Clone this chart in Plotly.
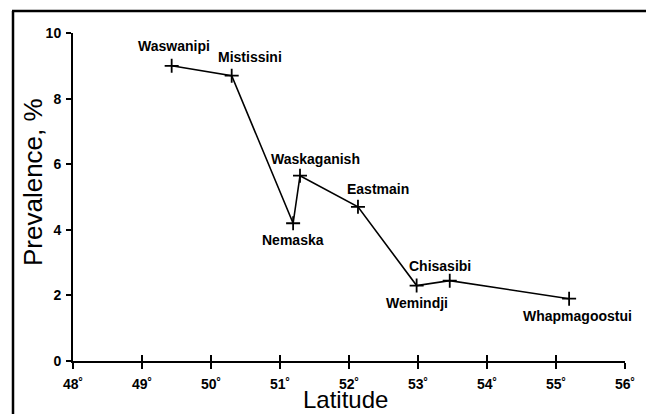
import plotly.graph_objects as go

# ---- data ----
communities = ["Waswanipi", "Mistissini", "Nemaska", "Waskaganish",
               "Eastmain", "Wemindji", "Chisasibi", "Whapmagoostui"]
latitude = [49.43, 50.30, 51.19, 51.29, 52.13, 52.98, 53.46, 55.19]
prevalence = [9.0, 8.7, 4.2, 5.65, 4.7, 2.3, 2.45, 1.9]
x_ticks = [48, 49, 50, 51, 52, 53, 54, 55, 56]
x_tick_labels = ["48˚", "49˚", "50˚", "51˚", "52˚", "53˚", "54˚", "55˚", "56˚"]
y_ticks = [0, 2, 4, 6, 8, 10]

# label offsets in pixels (style only)
label_shift = {
    "Waswanipi": (2, 20), "Mistissini": (18, 19), "Nemaska": (0, -17),
    "Waskaganish": (15, 17), "Eastmain": (20, 18), "Wemindji": (0, -17),
    "Chisasibi": (-10, 15), "Whapmagoostui": (8, -17),
}

W, H = 646, 414
L, R, T, B = 73, 21, 33, 53
pw, ph = W - L - R, H - T - B

FONT = "Liberation Sans, Arial, Helvetica, sans-serif"


def px_to_paper_x(px):
    return (px - L) / pw


def py_to_paper_y(py):
    return (T + ph - py) / ph


fig = go.Figure()
fig.add_trace(go.Scatter(
    x=latitude, y=prevalence, mode="lines+markers",
    line=dict(color="black", width=1.6),
    marker=dict(symbol="cross-thin", size=10, line=dict(color="black", width=1.8)),
    showlegend=False, hoverinfo="skip",
))

annotations = []
for name, lx, ly in zip(communities, latitude, prevalence):
    dx, dy = label_shift[name]
    annotations.append(dict(
        x=lx, y=ly, xref="x", yref="y", text=name, showarrow=False,
        xshift=dx, yshift=dy,
        font=dict(family=FONT, size=14, color="black", weight="bold"),
    ))

# axis titles
annotations.append(dict(
    x=px_to_paper_x(345), y=py_to_paper_y(414), xref="paper", yref="paper",
    text="Latitude", showarrow=False, xanchor="center", yanchor="bottom",
    borderpad=0,
    font=dict(family=FONT, size=24, color="black"),
))
annotations.append(dict(
    x=px_to_paper_x(33), y=py_to_paper_y(182), xref="paper", yref="paper",
    text="Prevalence, %", showarrow=False, textangle=-90,
    xanchor="center", yanchor="middle",
    font=dict(family=FONT, size=26, color="black"),
))

shapes = [
    dict(type="line", xref="paper", yref="paper",
         x0=px_to_paper_x(13), x1=px_to_paper_x(13),
         y0=py_to_paper_y(11), y1=py_to_paper_y(430),
         line=dict(color="black", width=2.5)),
    dict(type="line", xref="paper", yref="paper",
         x0=px_to_paper_x(12), x1=px_to_paper_x(660),
         y0=py_to_paper_y(11), y1=py_to_paper_y(11),
         line=dict(color="black", width=2.5)),
]

fig.update_layout(
    width=W, height=H,
    margin=dict(l=L, r=R, t=T, b=B),
    paper_bgcolor="white", plot_bgcolor="white",
    annotations=annotations, shapes=shapes,
    xaxis=dict(
        range=[48, 56], tickvals=x_ticks, ticktext=x_tick_labels,
        showgrid=False, zeroline=False, showline=True,
        linecolor="black", linewidth=2,
        ticks="outside", ticklen=6, tickwidth=1.6, tickcolor="black",
        ticklabelstandoff=3,
        tickfont=dict(family=FONT, size=14, color="black", weight="bold"),
    ),
    xaxis2=dict(
        range=[48, 56], tickvals=x_ticks, overlaying="x", side="bottom",
        showgrid=False, zeroline=False, showline=False,
        ticks="inside", ticklen=6, tickwidth=1.6, tickcolor="black",
        showticklabels=False,
    ),
    yaxis=dict(
        range=[0, 10], tickvals=y_ticks,
        showgrid=False, zeroline=False, showline=True,
        linecolor="black", linewidth=2,
        ticks="outside", ticklen=5, tickwidth=1.6, tickcolor="black",
        ticklabelstandoff=2,
        tickfont=dict(family=FONT, size=14, color="black", weight="bold"),
    ),
)
fig.add_trace(go.Scatter(x=[48], y=[0], xaxis="x2", mode="markers",
                         marker=dict(opacity=0), showlegend=False, hoverinfo="skip"))

fig.write_html(
    "out.html",
    config={"displayModeBar": False},
    post_script="document.body.style.margin='0';document.body.style.overflow='hidden';",
)
